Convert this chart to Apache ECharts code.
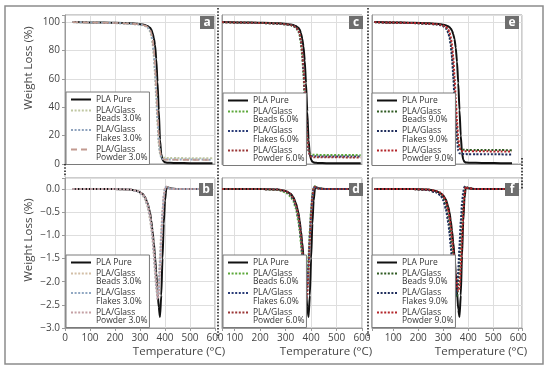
<!DOCTYPE html>
<html><head><meta charset="utf-8">
<script src="https://cdn.jsdelivr.net/npm/echarts@6/dist/echarts.min.js"></script>
<style>html,body{margin:0;padding:0;background:#fff}#c{width:550px;height:372px}</style>
</head><body><div id="c"></div>
<script>
// ---------- DATA ----------
const T_AB = [30, 100, 200, 260, 290, 310, 320, 330, 340, 345, 350, 355, 360, 365, 370, 375, 380, 385, 390, 395, 400, 405, 410, 420, 450, 500, 550, 590];
const T_CD = [50, 110, 210, 270, 300, 320, 330, 340, 350, 355, 360, 365, 370, 375, 380, 385, 390, 395, 400, 405, 410, 415, 420, 430, 460, 510, 560, 595];
const T_EF = [25, 80, 180, 240, 270, 290, 300, 310, 320, 325, 330, 335, 340, 345, 350, 355, 360, 365, 370, 375, 380, 385, 390, 400, 430, 480, 530, 575];

// (a) TGA 3.0 %
const PURE_TGA_A   = [100, 99.8, 99.5, 99.2, 98.8, 98.3, 97.9, 97.2, 96.0, 94.8, 92.5, 89, 84, 74, 58, 38, 17, 7, 3, 1.8, 1.2, 1.0, 0.9, 0.8, 0.7, 0.6, 0.6, 0.5];
const BEADS3_TGA   = [100, 99.7, 99.3, 98.9, 98.4, 97.8, 97.2, 96.2, 93.5, 90.5, 85, 76, 63, 46, 28, 14, 7, 5, 4.5, 4.4, 4.4, 4.3, 4.3, 4.3, 4.2, 4.1, 4.0, 4.0];
const FLAKES3_TGA  = [100, 99.7, 99.3, 98.9, 98.4, 97.9, 97.4, 96.5, 94, 91.5, 87, 79, 67, 50, 32, 17, 8, 4.5, 3.6, 3.4, 3.3, 3.3, 3.3, 3.2, 3.2, 3.1, 3.1, 3.0];
const POWDER3_TGA  = [100, 99.7, 99.4, 99.0, 98.5, 98.0, 97.5, 96.7, 94.6, 92.5, 88.5, 81.5, 70, 54, 36, 20, 9.5, 5, 3.6, 3.2, 3.1, 3.0, 3.0, 3.0, 2.9, 2.9, 2.8, 2.8];
// (b) DTG 3.0 %
const PURE_DTG_B   = [0, 0, 0, -0.01, -0.04, -0.1, -0.17, -0.3, -0.5, -0.68, -0.9, -1.15, -1.45, -1.8, -2.2, -2.55, -2.76, -2.3, -1.5, -0.75, -0.25, 0, 0.04, 0.02, 0, 0, 0, 0];
const BEADS3_DTG   = [0, 0, 0, -0.01, -0.05, -0.13, -0.22, -0.38, -0.65, -0.85, -1.1, -1.42, -1.8, -2.15, -2.28, -2.0, -1.45, -0.9, -0.45, -0.12, 0.04, 0.05, 0.03, 0.01, 0, 0, 0, 0];
const FLAKES3_DTG  = [0, 0, 0, -0.01, -0.05, -0.12, -0.2, -0.35, -0.6, -0.8, -1.05, -1.35, -1.72, -2.1, -2.36, -2.15, -1.6, -1.0, -0.5, -0.15, 0.03, 0.05, 0.03, 0.01, 0, 0, 0, 0];
const POWDER3_DTG  = [0, 0, 0, -0.01, -0.04, -0.1, -0.18, -0.32, -0.55, -0.74, -0.98, -1.28, -1.65, -2.0, -2.38, -2.3, -1.8, -1.15, -0.6, -0.2, 0.02, 0.05, 0.03, 0.01, 0, 0, 0, 0];
// (c) TGA 6.0 %
const PURE_TGA_C   = [100, 99.8, 99.5, 99.2, 98.8, 98.3, 97.9, 97.2, 96.0, 94.7, 92.3, 88.5, 83, 73, 57, 37, 17, 7, 3, 1.7, 1.1, 0.9, 0.8, 0.7, 0.6, 0.6, 0.5, 0.5];
const BEADS6_TGA   = [100, 99.7, 99.3, 98.9, 98.4, 97.8, 97.2, 96.2, 93.5, 90.5, 85, 76, 63, 46, 29, 16, 9.5, 7.3, 6.8, 6.6, 6.5, 6.5, 6.5, 6.4, 6.4, 6.3, 6.3, 6.2];
const FLAKES6_TGA  = [100, 99.7, 99.3, 98.9, 98.4, 97.9, 97.3, 96.4, 94, 91.5, 86.5, 78.5, 66, 49, 32, 18, 9.5, 6.5, 5.7, 5.5, 5.4, 5.4, 5.4, 5.3, 5.3, 5.2, 5.2, 5.2];
const POWDER6_TGA  = [100, 99.7, 99.4, 99.0, 98.5, 98.0, 97.4, 96.6, 94.4, 92, 87.5, 80, 68, 51.5, 34, 19, 9.5, 6, 5.1, 4.9, 4.8, 4.8, 4.8, 4.7, 4.7, 4.7, 4.6, 4.6];
// (d) DTG 6.0 %
const PURE_DTG_D   = [0, 0, 0, -0.01, -0.04, -0.1, -0.17, -0.3, -0.5, -0.68, -0.9, -1.15, -1.45, -1.8, -2.2, -2.55, -2.76, -2.3, -1.5, -0.75, -0.25, 0, 0.04, 0.02, 0, 0, 0, 0];
const BEADS6_DTG   = [0, 0, 0, -0.02, -0.07, -0.16, -0.26, -0.42, -0.7, -0.9, -1.16, -1.5, -1.88, -2.22, -2.3, -2.0, -1.45, -0.9, -0.45, -0.12, 0.04, 0.06, 0.03, 0.01, 0, 0, 0, 0];
const FLAKES6_DTG  = [0, 0, 0, -0.01, -0.05, -0.13, -0.22, -0.37, -0.62, -0.82, -1.08, -1.4, -1.78, -2.15, -2.38, -2.12, -1.58, -1.0, -0.5, -0.15, 0.03, 0.05, 0.03, 0.01, 0, 0, 0, 0];
const POWDER6_DTG  = [0, 0, 0, -0.01, -0.04, -0.11, -0.19, -0.33, -0.56, -0.75, -1.0, -1.3, -1.68, -2.05, -2.4, -2.3, -1.78, -1.12, -0.58, -0.18, 0.02, 0.05, 0.03, 0.01, 0, 0, 0, 0];
// (e) TGA 9.0 %
const PURE_TGA_E   = [100, 99.8, 99.5, 99.2, 98.9, 98.5, 98.2, 97.7, 97.0, 96.4, 95.5, 94.0, 91.5, 88, 82, 72, 57, 38, 20, 8, 3, 1.6, 1.1, 0.9, 0.8, 0.7, 0.6, 0.6];
const BEADS9_TGA   = [100, 99.7, 99.3, 98.9, 98.5, 97.9, 97.3, 96.2, 93.5, 90.5, 85.5, 78, 66, 51, 35, 22, 14, 11, 10.3, 10.1, 10.0, 10.0, 10.0, 9.9, 9.9, 9.8, 9.8, 9.7];
const FLAKES9_TGA  = [100, 99.7, 99.3, 98.9, 98.4, 97.8, 97.1, 95.8, 92.5, 89, 83.5, 75, 62, 46, 30, 17, 9.5, 7.6, 7.2, 7.1, 7.0, 7.0, 7.0, 6.9, 6.9, 6.8, 6.8, 6.7];
const POWDER9_TGA  = [100, 99.7, 99.4, 99.0, 98.6, 98.1, 97.6, 96.8, 94.8, 92.8, 89.5, 84, 75, 62, 46, 30, 18, 11.5, 9.6, 9.2, 9.1, 9.0, 9.0, 9.0, 8.9, 8.9, 8.8, 8.8];
// (f) DTG 9.0 %
const PURE_DTG_F   = [0, 0, 0, -0.01, -0.04, -0.09, -0.14, -0.22, -0.38, -0.5, -0.68, -0.9, -1.15, -1.45, -1.8, -2.2, -2.6, -2.76, -2.3, -1.45, -0.7, -0.2, 0.03, 0.02, 0, 0, 0, 0];
const BEADS9_DTG   = [0, 0, 0, -0.02, -0.06, -0.12, -0.2, -0.35, -0.6, -0.8, -1.05, -1.35, -1.68, -2.0, -2.25, -2.33, -2.1, -1.6, -1.05, -0.55, -0.2, 0.02, 0.06, 0.02, 0, 0, 0, 0];
const FLAKES9_DTG  = [0, 0, 0, -0.02, -0.07, -0.14, -0.24, -0.42, -0.72, -0.95, -1.25, -1.58, -1.92, -2.2, -2.3, -2.15, -1.75, -1.2, -0.7, -0.3, -0.05, 0.05, 0.05, 0.02, 0, 0, 0, 0];
const POWDER9_DTG  = [0, 0, 0, -0.01, -0.04, -0.08, -0.14, -0.25, -0.45, -0.6, -0.8, -1.05, -1.32, -1.6, -1.88, -2.1, -2.2, -2.15, -1.7, -1.1, -0.5, -0.1, 0.05, 0.02, 0, 0, 0, 0];

const LABELS_3 = ['PLA Pure', 'PLA/Glass\nBeads 3.0%', 'PLA/Glass\nFlakes 3.0%', 'PLA/Glass\nPowder 3.0%'];
const LABELS_6 = ['PLA Pure', 'PLA/Glass\nBeads 6.0%', 'PLA/Glass\nFlakes 6.0%', 'PLA/Glass\nPowder 6.0%'];
const LABELS_9 = ['PLA Pure', 'PLA/Glass\nBeads 9.0%', 'PLA/Glass\nFlakes 9.0%', 'PLA/Glass\nPowder 9.0%'];
const PANEL_LETTERS = ['a', 'b', 'c', 'd', 'e', 'f'];
const Y_TITLE = 'Weight Loss (%)';
const X_TITLE = 'Temperature (°C)';
const TGA_TICKS = [0, 20, 40, 60, 80, 100];
const DTG_TICKS = [0, -0.5, -1, -1.5, -2, -2.5, -3];
const X_TICKS = [0, 100, 200, 300, 400, 500, 600];

// ---------- STYLES ----------
const FONT = '"Open Sans", "Noto Sans", "DejaVu Sans", sans-serif';
const DOT = [2, 1.6];
const STY_A = [{c:'#111111', w:2, d:'solid'}, {c:'#c0c7a2', w:2, d:DOT}, {c:'#8ea2bd', w:2, d:DOT}, {c:'#c29a90', w:1.6, d:[6,4]}];
const STY_B = [{c:'#111111', w:2, d:'solid'}, {c:'#d2bea6', w:2, d:DOT}, {c:'#90a7c2', w:2, d:DOT}, {c:'#c4a0a4', w:2, d:DOT}];
const STY_CD = [{c:'#111111', w:2, d:'solid'}, {c:'#5ca83a', w:2, d:DOT}, {c:'#2a3c78', w:2, d:DOT}, {c:'#9a3535', w:2, d:DOT}];
const STY_EF = [{c:'#111111', w:2, d:'solid'}, {c:'#2f5a22', w:2, d:DOT}, {c:'#1f2d5c', w:2, d:DOT}, {c:'#b3262b', w:2, d:DOT}];

const panels = [
  {id:'a', t:T_AB, vals:[PURE_TGA_A, BEADS3_TGA, FLAKES3_TGA, POWDER3_TGA], sty:STY_A, labels:LABELS_3, kind:'tga',
   grid:{left:65, top:15, width:150, height:149}, xr:[0,600], yLab:true, xLab:false, leg:[66,92], tag:[200,16]},
  {id:'b', t:T_AB, vals:[PURE_DTG_B, BEADS3_DTG, FLAKES3_DTG, POWDER3_DTG], sty:STY_B, labels:LABELS_3, kind:'dtg',
   grid:{left:65, top:178, width:150, height:150}, xr:[0,600], yLab:true, xLab:true, xPad:78, leg:[66,255], tag:[199,183]},
  {id:'c', t:T_CD, vals:[PURE_TGA_C, BEADS6_TGA, FLAKES6_TGA, POWDER6_TGA], sty:STY_CD, labels:LABELS_6, kind:'tga',
   grid:{left:222, top:15, width:140, height:149}, xr:[50,600], yLab:false, xLab:false, leg:[223,93], tag:[349,16]},
  {id:'d', t:T_CD, vals:[PURE_DTG_D, BEADS6_DTG, FLAKES6_DTG, POWDER6_DTG], sty:STY_CD, labels:LABELS_6, kind:'dtg',
   grid:{left:222, top:178, width:140, height:150}, xr:[50,600], yLab:false, xLab:true, xPad:68, leg:[223,255], tag:[349,183]},
  {id:'e', t:T_EF, vals:[PURE_TGA_E, BEADS9_TGA, FLAKES9_TGA, POWDER9_TGA], sty:STY_EF, labels:LABELS_9, kind:'tga',
   grid:{left:372, top:15, width:150, height:149}, xr:[15,615], yLab:false, xLab:false, leg:[372,93], tag:[505,16]},
  {id:'f', t:T_EF, vals:[PURE_DTG_F, BEADS9_DTG, FLAKES9_DTG, POWDER9_DTG], sty:STY_EF, labels:LABELS_9, kind:'dtg',
   grid:{left:372, top:178, width:150, height:150}, xr:[15,615], yLab:false, xLab:true, xPad:68, leg:[372,255], tag:[505,183]}
];

const AX = '#9a9a9a', GRIDC = '#dedede', TXT = '#454545';
const labelMap = {};
const grids = [], xAxes = [], yAxes = [], series = [], legends = [], graphics = [];

panels.forEach((p, pi) => {
  grids.push(Object.assign({show:true, borderColor:AX, borderWidth:1, backgroundColor:'#fff'}, p.grid));
  xAxes.push({
    type:'value', gridIndex:pi, min:p.xr[0], max:p.xr[1], minInterval:100, maxInterval:100, splitNumber:6,
    axisLine:{show:true, onZero:false, lineStyle:{color:AX}},
    axisTick:{show:p.xLab, length:3, lineStyle:{color:AX}},
    splitLine:{show:true, lineStyle:{color:GRIDC, width:1}},
    axisLabel:{show:p.xLab, margin:5, color:TXT, fontSize:10, fontFamily:FONT,
      formatter: v => (X_TICKS.indexOf(v) >= 0 ? String(v) : '')},
    name: p.xLab ? X_TITLE : '', nameLocation:'middle', nameGap:18,
    nameTextStyle:{color:TXT, fontSize:11.5, fontFamily:FONT, padding:[0,0,0,p.xPad||0]}
  });
  const tga = p.kind === 'tga';
  const ticks = tga ? TGA_TICKS : DTG_TICKS;
  yAxes.push({
    type:'value', gridIndex:pi, min: tga ? 0 : -3, max: tga ? 105 : 0.24, interval: tga ? 20 : 0.5,
    axisLine:{show:true, onZero:false, lineStyle:{color:AX}},
    axisTick:{show:p.yLab, length:3, lineStyle:{color:AX}},
    splitLine:{show:true, lineStyle:{color:GRIDC, width:1}},
    axisLabel:{show:p.yLab, margin:5, color:TXT, fontSize:10, fontFamily:FONT,
      formatter: v => {
        const hit = ticks.some(t => Math.abs(t - v) < 1e-6);
        if (!hit) return '';
        return tga ? String(Math.round(v)) : (v < 0 ? '\u2212' : '') + Math.abs(v).toFixed(1);
      }},
    name: p.yLab ? Y_TITLE : '', nameLocation:'middle', nameGap:30,
    nameTextStyle:{color:TXT, fontSize:11.5, fontFamily:FONT, padding:[0,0,0, tga ? 43 : 26]}
  });
  const names = [];
  p.vals.forEach((vals, si) => {
    const st = p.sty[si];
    const nm = p.id + si;
    // multi-line entries get a leading empty line so the first text line sits on the sample line
    labelMap[nm] = p.labels[si].indexOf('\n') >= 0 ? '\n' + p.labels[si] : p.labels[si];
    names.push(nm);
    series.push({
      type:'line', name:nm, xAxisIndex:pi, yAxisIndex:pi,
      data: p.t.map((t, k) => [t, vals[k]]),
      symbol:'none', smooth:0.2, smoothMonotone:'x', silent:true, animation:false,
      lineStyle:{color:st.c, width:st.w, type:st.d},
      itemStyle:{color:st.c},
      z: si === 0 ? 2 : 3
    });
  });
  legends.push({
    orient:'vertical', left:p.leg[0], top:p.leg[1],
    data: names.map(n => ({name:n})),
    formatter: n => labelMap[n],
    itemWidth:20, itemHeight:8, itemGap:-6.5,
    itemStyle:{opacity:0},
    padding:[3,2,2,4], backgroundColor:'#fff', borderColor:'#7a7a7a', borderWidth:1,
    selectedMode:false,
    textStyle:{fontFamily:FONT, fontSize:8.5, lineHeight:8.5, color:'#333'}
  });
  graphics.push({
    type:'group', x:p.tag[0], y:p.tag[1], z:100,
    children:[
      {type:'rect', z:100, shape:{x:0, y:0, width:14, height:13}, style:{fill:'#6e6e6e'}},
      {type:'text', z:101, x:7, y:6.5, style:{text:PANEL_LETTERS[pi], fill:'#ffffff', fontSize:12, fontWeight:'bold', fontFamily:FONT, align:'center', verticalAlign:'middle'}}
    ]
  });
});

// frame and dotted panel separators
graphics.push({type:'rect', z:100, shape:{x:5, y:6, width:538, height:358}, style:{fill:'none', stroke:'#8c8c8c', lineWidth:1.5}});
const DOTTED = {stroke:'#222', lineWidth:1.6, lineDash:[1.6,1.6]};
graphics.push({type:'line', z:100, shape:{x1:218, y1:8, x2:218, y2:338}, style:DOTTED});
graphics.push({type:'line', z:100, shape:{x1:368, y1:8, x2:368, y2:338}, style:DOTTED});
graphics.push({type:'line', z:100, shape:{x1:65, y1:164, x2:65, y2:177}, style:DOTTED});
graphics.push({type:'line', z:100, shape:{x1:522, y1:158, x2:522, y2:190}, style:DOTTED});

const chart = echarts.init(document.getElementById('c'), null, {renderer:'canvas'});
chart.setOption({
  animation:false,
  backgroundColor:'#fff',
  grid:grids, xAxis:xAxes, yAxis:yAxes, series:series, legend:legends, graphic:graphics
});
</script>
</body></html>
